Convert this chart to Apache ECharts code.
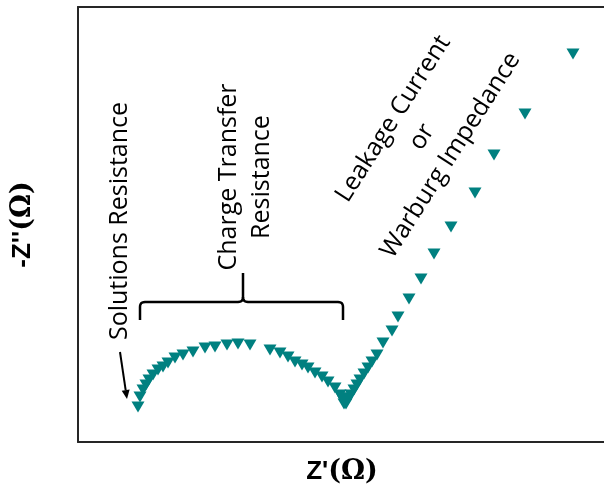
<!DOCTYPE html>
<html>
<head>
<meta charset="utf-8">
<script src="https://cdn.jsdelivr.net/npm/echarts@6/dist/echarts.min.js"></script>
<style>html,body{margin:0;padding:0;background:#fff;}#c{width:604px;height:498px;}</style>
</head>
<body>
<div id="c"></div>
<script>
// Nyquist data, Z' (x) and -Z'' (y), arbitrary ohm units
const zReal = [12.0,12.4,13.0,13.6,14.2,15.0,16.0,17.0,18.0,19.4,21.0,23.0,25.4,27.4,29.8,32.0,34.4,
  38.4,40.4,42.0,43.4,44.8,46.0,47.4,48.8,50.0,51.4,52.4,52.8,53.0,53.2,53.4,53.6,53.8,54.2,54.6,55.2,55.8,56.4,57.2,58.0,58.8,59.8,
  61.0,62.8,64.0,66.2,68.6,71.2,74.6,79.4,83.2,89.4,99.0];
const zImag = [7.0,9.0,10.4,11.4,12.4,13.4,14.4,15.0,15.8,16.8,17.4,18.0,18.8,19.0,19.4,19.6,19.4,
  18.4,17.8,17.0,16.0,15.4,14.8,13.8,13.0,12.0,10.8,9.4,8.8,8.4,7.6,7.8,7.6,8.2,8.8,9.4,10.4,11.4,12.4,13.6,14.8,16.0,17.4,
  19.8,22.2,25.0,28.6,32.6,37.6,43.0,49.8,57.4,65.6,77.6];
const xTitle = "{a|Z'}{b|(Ω)}";
const yTitle = "{a|-Z''}{b|(Ω)}";
const labelSolution = "Solutions Resistance";
const labelCharge = "Charge Transfer\nResistance";
const labelLeak = "Leakage Current\nor\nWarburg Impedance";

const points = zReal.map((x, i) => [x, zImag[i]]);
const chart = echarts.init(document.getElementById('c'));
const teal = '#008080';
const frame = { show: true, lineStyle: { color: '#262626', width: 2 } };
const titleRich = {
  a: { fontFamily: 'Liberation Sans', fontWeight: 'bold', fontSize: 26, color: '#000' },
  b: { fontFamily: 'DejaVu Serif', fontWeight: 'bold', fontSize: 27, color: '#000' }
};
const hidden = { axisTick: { show: false }, axisLabel: { show: false }, splitLine: { show: false } };
chart.setOption({
  animation: false,
  grid: { left: 78, top: 7, width: 560, height: 435, show: false, outerBoundsMode: 'none', containLabel: false },
  xAxis: [{
    type: 'value', min: 0, max: 112, position: 'bottom', axisLine: frame, ...hidden,
    name: xTitle, nameLocation: 'middle', nameGap: 16,
    nameTextStyle: { verticalAlign: 'top', padding: [0, 32, 0, 0], rich: titleRich }
  }, {
    type: 'value', min: 0, max: 112, position: 'top', axisLine: frame, ...hidden
  }],
  yAxis: {
    type: 'value', min: 0, max: 87, position: 'left', axisLine: frame, ...hidden,
    name: yTitle, nameLocation: 'middle', nameGap: 42, nameRotate: 90,
    nameTextStyle: { rich: titleRich }
  },
  series: [{
    type: 'scatter', xAxisIndex: 0, data: points, symbol: 'triangle', symbolRotate: 180, symbolSize: [13, 11],
    itemStyle: { color: teal, opacity: 1 }
  }]
});

function P(x, y) { return chart.convertToPixel({ xAxisIndex: 0, yAxisIndex: 0 }, [x, y]); }
const txtFont = '25px "Open Sans"';
const g = [];
// Solutions Resistance
let p = P(8.4, 44.2);
g.push({ type: 'text', x: p[0], y: p[1], rotation: Math.PI / 2,
  style: { text: labelSolution, font: txtFont, fill: '#000', textAlign: 'center', textVerticalAlign: 'middle' } });
// arrow
let a0 = P(8.4, 18.0), a1 = P(9.8, 8.6);
let dx = a1[0] - a0[0], dy = a1[1] - a0[1], len = Math.hypot(dx, dy), ux = dx / len, uy = dy / len;
let hb = [a1[0] - ux * 9, a1[1] - uy * 9];
g.push({ type: 'line', shape: { x1: a0[0], y1: a0[1], x2: hb[0], y2: hb[1] }, style: { stroke: '#000', lineWidth: 2 } });
g.push({ type: 'polygon', shape: { points: [a1, [hb[0] - uy * 4, hb[1] + ux * 4], [hb[0] + uy * 4, hb[1] - ux * 4]] }, style: { fill: '#000' } });
// Charge transfer text
p = P(33.5, 53.0);
g.push({ type: 'text', x: p[0], y: p[1], rotation: Math.PI / 2,
  style: { text: labelCharge, font: txtFont, lineHeight: 33, fill: '#000', textAlign: 'center', textVerticalAlign: 'middle' } });
// brace
const bL = P(12.4, 24.4), bR = P(53.0, 24.4), bMidY = P(0, 28.0)[1], bM = P(33.0, 33.8);
function corner(cx, cy, sx, sy, ex, ey) {
  const pts = [];
  for (let i = 0; i <= 6; i++) {
    const t = i / 6, m = 1 - t;
    pts.push([m * m * sx + 2 * m * t * cx + t * t * ex, m * m * sy + 2 * m * t * cy + t * t * ey]);
  }
  return pts;
}
const r = 5;
let left = [[bL[0], bL[1]]].concat(corner(bL[0], bMidY, bL[0], bMidY + r, bL[0] + r, bMidY))
  .concat(corner(bM[0], bMidY, bM[0] - r, bMidY, bM[0], bMidY - r)).concat([[bM[0], bM[1]]]);
let right = [[bR[0], bR[1]]].concat(corner(bR[0], bMidY, bR[0], bMidY + r, bR[0] - r, bMidY))
  .concat(corner(bM[0], bMidY, bM[0] + r, bMidY, bM[0], bMidY - r));
g.push({ type: 'polyline', shape: { points: left }, style: { stroke: '#000', lineWidth: 2.5, fill: null } });
g.push({ type: 'polyline', shape: { points: right }, style: { stroke: '#000', lineWidth: 2.5, fill: null } });
// Leakage text
p = P(68.8, 61.0);
g.push({ type: 'text', x: p[0], y: p[1], rotation: 57.5 * Math.PI / 180,
  style: { text: labelLeak, font: txtFont, lineHeight: 34, fill: '#000', textAlign: 'center', textVerticalAlign: 'middle' } });
chart.setOption({ graphic: g });
</script>
</body>
</html>
